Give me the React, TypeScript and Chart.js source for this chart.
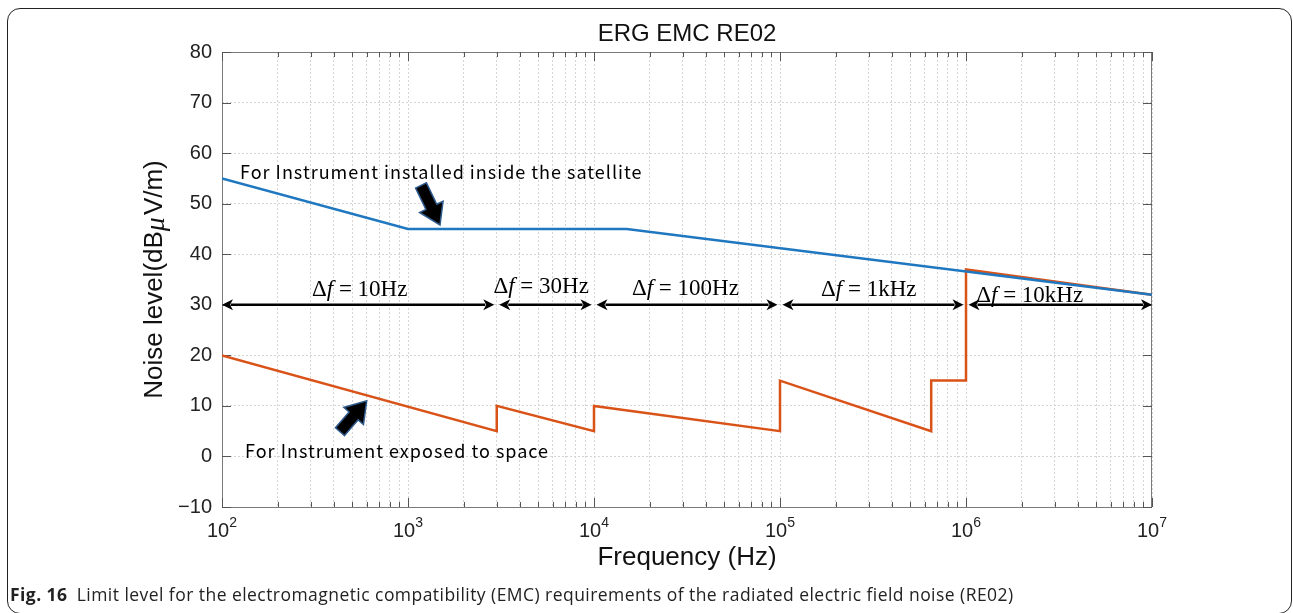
import React, { useEffect, useRef } from 'react';
import { Chart, registerables } from 'chart.js';

Chart.register(...registerables);

// ---- data ----
const insideFreq = [100, 1000, 15000, 1e7];
const insideLevel = [55, 45, 45, 32];

const spaceFreq = [100, 3000, 3000, 10000, 10000, 100000, 100000, 650000, 650000, 1e6, 1e6, 1e7];
const spaceLevel = [20, 5, 10, 5, 10, 5, 15, 5, 15, 15, 37, 32];

const yMin = -10;
const yMax = 80;
const yStep = 10;
const xMin = 100;
const xMax = 1e7;
const decadePowers = [2, 3, 4, 5, 6, 7];
const minorMultipliers = [1, 2, 3, 4, 5, 6, 7, 8, 9];

// resolution-bandwidth bands (double arrows at 30 dB)
const bandEdges = [100, 3000, 10000, 100000, 1e6, 1e7];
const bandArrowLevel = 30;
const bandLabels = ['10Hz', '30Hz', '100Hz', '1kHz', '10kHz'];
const bandLabelFreq = [550, 5200, 31000, 300000, 2200000];
const bandLabelLevel = [33, 33.6, 33.2, 33, 31.8];

// text annotations
const noteTexts = ['For Instrument installed inside the satellite', 'For Instrument exposed to space'];
const noteFreq = [125, 133];
const noteLevel = [56.3, 1.1];

// block arrows: tail -> tip
const blockTailFreq = [1175, 431];
const blockTailLevel = [53.6, 4.9];
const blockTipFreq = [1486, 600];
const blockTipLevel = [45.8, 11.0];

const titleText = 'ERG EMC RE02';
const xTitle = 'Frequency (Hz)';
const yTitleParts = ['Noise level(dB', '\u03bc', 'V/m)'];
const captionBold = 'Fig. 16';
const captionText =
  'Limit level for the electromagnetic compatibility (EMC) requirements of the radiated electric field noise (RE02)';

const xTickValues: number[] = [];
decadePowers.forEach((p, i) => {
  if (i === decadePowers.length - 1) {
    xTickValues.push(Math.pow(10, p));
  } else {
    minorMultipliers.forEach((m) => xTickValues.push(m * Math.pow(10, p)));
  }
});

const SANS = '"Liberation Sans", Arial, sans-serif';
const SERIF = '"Liberation Serif", "Times New Roman", serif';
const GRID = '#d4d4d4';
const AXIS = '#7a7a7a';

function drawBlockArrow(ctx: CanvasRenderingContext2D, x0: number, y0: number, x1: number, y1: number) {
  const dx = x1 - x0;
  const dy = y1 - y0;
  const len = Math.hypot(dx, dy);
  const ux = dx / len;
  const uy = dy / len;
  const nx = -uy;
  const ny = ux;
  const sw = 6;
  const hw = 13;
  const hl = 20;
  const sx = x1 - ux * hl;
  const sy = y1 - uy * hl;
  ctx.save();
  ctx.beginPath();
  ctx.moveTo(x0 + nx * sw, y0 + ny * sw);
  ctx.lineTo(sx + nx * sw, sy + ny * sw);
  ctx.lineTo(sx + nx * hw, sy + ny * hw);
  ctx.lineTo(x1, y1);
  ctx.lineTo(sx - nx * hw, sy - ny * hw);
  ctx.lineTo(sx - nx * sw, sy - ny * sw);
  ctx.lineTo(x0 - nx * sw, y0 - ny * sw);
  ctx.closePath();
  ctx.fillStyle = '#000';
  ctx.fill();
  ctx.strokeStyle = '#2f5b8c';
  ctx.lineWidth = 1.5;
  ctx.stroke();
  ctx.restore();
}

function drawDoubleArrow(ctx: CanvasRenderingContext2D, xa: number, xb: number, y: number) {
  const hl = 11;
  const hw = 5.5;
  ctx.save();
  ctx.strokeStyle = '#000';
  ctx.fillStyle = '#000';
  ctx.lineWidth = 2.6;
  ctx.beginPath();
  ctx.moveTo(xa + hl - 2, y);
  ctx.lineTo(xb - hl + 2, y);
  ctx.stroke();
  ctx.beginPath();
  ctx.moveTo(xa, y);
  ctx.lineTo(xa + hl, y - hw);
  ctx.lineTo(xa + hl - 3, y);
  ctx.lineTo(xa + hl, y + hw);
  ctx.closePath();
  ctx.fill();
  ctx.beginPath();
  ctx.moveTo(xb, y);
  ctx.lineTo(xb - hl, y - hw);
  ctx.lineTo(xb - hl + 3, y);
  ctx.lineTo(xb - hl, y + hw);
  ctx.closePath();
  ctx.fill();
  ctx.restore();
}

const framePlugin = {
  id: 'framePlugin',
  beforeDatasetsDraw(chart: any) {
    const { ctx, chartArea: a, scales } = chart;
    const xs = scales.x;
    const ys = scales.y;
    ctx.save();
    ctx.strokeStyle = AXIS;
    ctx.lineWidth = 1;
    ctx.strokeRect(a.left + 0.5, a.top + 0.5, a.right - a.left - 1, a.bottom - a.top);
    // inward tick marks
    ctx.strokeStyle = '#555';
    ctx.beginPath();
    xTickValues.forEach((v) => {
      const px = Math.round(xs.getPixelForValue(v)) + 0.5;
      const major = Math.abs(Math.log10(v) - Math.round(Math.log10(v))) < 1e-9;
      const L = major ? 9 : 5;
      ctx.moveTo(px, a.bottom);
      ctx.lineTo(px, a.bottom - L);
      ctx.moveTo(px, a.top);
      ctx.lineTo(px, a.top + L);
    });
    for (let v = yMin; v <= yMax; v += yStep) {
      const py = Math.round(ys.getPixelForValue(v)) + 0.5;
      ctx.moveTo(a.left, py);
      ctx.lineTo(a.left + 9, py);
      ctx.moveTo(a.right, py);
      ctx.lineTo(a.right - 9, py);
    }
    ctx.stroke();
    ctx.restore();
  },
  afterDatasetsDraw(chart: any) {
    const { ctx, chartArea: a, scales } = chart;
    const xs = scales.x;
    const ys = scales.y;
    ctx.save();

    // title
    ctx.fillStyle = '#111';
    ctx.font = `24px ${SANS}`;
    ctx.textAlign = 'center';
    ctx.textBaseline = 'middle';
    ctx.fillText(titleText, (a.left + a.right) / 2, 34);

    // y axis title with italic mu
    {
      const fonts = [`26px ${SANS}`, `italic 28px ${SERIF}`, `26px ${SANS}`];
      let total = 0;
      const ws = yTitleParts.map((t, k) => {
        ctx.font = fonts[k];
        const w = ctx.measureText(t).width + (k === 1 ? 2 : 0);
        total += w;
        return w;
      });
      ctx.save();
      ctx.translate(155, (a.top + a.bottom) / 2);
      ctx.rotate(-Math.PI / 2);
      ctx.textAlign = 'left';
      ctx.textBaseline = 'middle';
      ctx.fillStyle = '#111';
      let x = -total / 2;
      yTitleParts.forEach((t, k) => {
        ctx.font = fonts[k];
        ctx.fillText(t, x, k === 1 ? 2 : 0);
        x += ws[k];
      });
      ctx.restore();
    }

    // x tick labels with superscripts
    decadePowers.forEach((p) => {
      const px = xs.getPixelForValue(Math.pow(10, p));
      ctx.font = `20px ${SANS}`;
      const wBase = ctx.measureText('10').width;
      ctx.font = `14px ${SANS}`;
      const exp = String(p);
      const wExp = ctx.measureText(exp).width;
      const total = wBase + wExp;
      const x0 = px - total / 2;
      ctx.textAlign = 'left';
      ctx.textBaseline = 'alphabetic';
      ctx.font = `20px ${SANS}`;
      ctx.fillStyle = '#222';
      ctx.fillText('10', x0, a.bottom + 30);
      ctx.font = `14px ${SANS}`;
      ctx.fillText(exp, x0 + wBase, a.bottom + 20);
    });

    // band double arrows
    const yArrow = ys.getPixelForValue(bandArrowLevel);
    for (let i = 0; i < bandEdges.length - 1; i++) {
      let xa = xs.getPixelForValue(bandEdges[i]);
      let xb = xs.getPixelForValue(bandEdges[i + 1]);
      if (i > 0) xa += 2.5;
      if (i < bandEdges.length - 2) xb -= 2.5;
      drawDoubleArrow(ctx, xa, xb, yArrow);
    }

    // band labels  "Δf = 10Hz"
    bandLabels.forEach((lab, i) => {
      const cx = xs.getPixelForValue(bandLabelFreq[i]);
      const cy = ys.getPixelForValue(bandLabelLevel[i]);
      const parts = [
        { t: '\u0394', f: `23px ${SERIF}` },
        { t: 'f', f: `italic 23px ${SERIF}` },
        { t: ' = ', f: `23px ${SERIF}` },
        { t: lab, f: `23px ${SERIF}` },
      ];
      let total = 0;
      const widths = parts.map((p) => {
        ctx.font = p.f;
        const w = ctx.measureText(p.t).width;
        total += w;
        return w;
      });
      let x = cx - total / 2;
      ctx.fillStyle = '#000';
      ctx.textAlign = 'left';
      ctx.textBaseline = 'middle';
      parts.forEach((p, k) => {
        ctx.font = p.f;
        ctx.fillText(p.t, x, cy);
        x += widths[k];
      });
    });

    // notes
    ctx.font = `18px "Noto Sans CJK JP", "Noto Sans", sans-serif`;
    (ctx as any).letterSpacing = '1px';
    ctx.fillStyle = '#000';
    ctx.textAlign = 'left';
    ctx.textBaseline = 'middle';
    noteTexts.forEach((t, i) => {
      ctx.fillText(t, xs.getPixelForValue(noteFreq[i]), ys.getPixelForValue(noteLevel[i]));
    });
    (ctx as any).letterSpacing = '0px';

    // block arrows
    blockTailFreq.forEach((f, i) => {
      drawBlockArrow(
        ctx,
        xs.getPixelForValue(f),
        ys.getPixelForValue(blockTailLevel[i]),
        xs.getPixelForValue(blockTipFreq[i]),
        ys.getPixelForValue(blockTipLevel[i])
      );
    });
    ctx.restore();
  },
};

export default function App() {
  const ref = useRef<HTMLCanvasElement | null>(null);

  useEffect(() => {
    if (!ref.current) return;
    const chart = new Chart(ref.current, {
      type: 'line',
      data: {
        datasets: [
          {
            label: 'inside',
            data: insideFreq.map((f, i) => ({ x: f, y: insideLevel[i] })),
            borderColor: '#1f77c0',
            borderWidth: 2.5,
            pointRadius: 0,
            tension: 0,
          },
          {
            label: 'space',
            data: spaceFreq.map((f, i) => ({ x: f, y: spaceLevel[i] })),
            borderColor: '#d95319',
            borderWidth: 2.5,
            pointRadius: 0,
            tension: 0,
          },
        ],
      },
      options: {
        animation: false,
        responsive: false,
        maintainAspectRatio: false,
        parsing: false as any,
        layout: { padding: { left: 0, right: 141, top: 52, bottom: 0 } },
        plugins: {
          legend: { display: false },
          tooltip: { enabled: false },
          title: { display: false },
        },
        scales: {
          x: {
            type: 'logarithmic',
            min: xMin,
            max: xMax,
            afterBuildTicks: (s: any) => {
              s.ticks = xTickValues.map((v) => ({ value: v }));
            },
            afterFit: (s: any) => {
              s.height = 106;
            },
            ticks: { display: false, autoSkip: false },
            grid: { color: GRID, lineWidth: 1, drawTicks: false },
            border: { display: false, dash: [2, 2] },
            title: {
              display: true,
              text: xTitle,
              font: { size: 26, family: SANS },
              color: '#111',
              padding: { top: 0, bottom: 40 },
            },
          },
          y: {
            min: yMin,
            max: yMax,
            afterFit: (s: any) => {
              s.width = 222;
            },
            ticks: {
              stepSize: yStep,
              padding: 10,
              color: '#222',
              font: { size: 20, family: SANS },
              callback: (v: any) => (Number(v) < 0 ? '\u2212' + Math.abs(Number(v)) : String(v)),
            },
            grid: { color: GRID, lineWidth: 1, drawTicks: false },
            border: { display: false, dash: [2, 2] },
            title: { display: false },
          },
        },
      } as any,
      plugins: [framePlugin],
    });
    return () => chart.destroy();
  }, []);

  return (
    <div
      style={{
        position: 'fixed',
        left: 0,
        top: 0,
        width: 1293,
        height: 613,
        background: '#fff',
        overflow: 'hidden',
      }}
    >
      <div
        style={{
          position: 'absolute',
          left: 7,
          top: 8,
          width: 1285,
          height: 606,
          border: '1.3px solid #222',
          borderRadius: 13,
          boxSizing: 'border-box',
        }}
      />
      <canvas ref={ref} width={1293} height={613} style={{ position: 'absolute', left: 0, top: 0 }} />
      <div
        style={{
          position: 'absolute',
          left: 10,
          top: 582,
          fontFamily: '"Open Sans", "Noto Sans", sans-serif',
          fontSize: 17.5,
          letterSpacing: '0.45px',
          lineHeight: '24px',
          color: '#222',
          whiteSpace: 'nowrap',
        }}
      >
        <b>{captionBold}</b>
        {'\u2002' + captionText}
      </div>
    </div>
  );
}
